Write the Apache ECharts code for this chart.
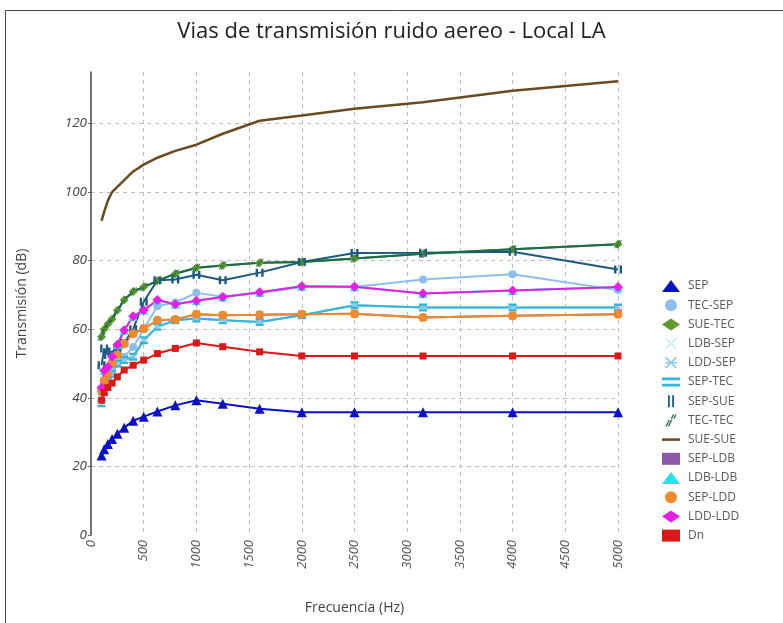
<!DOCTYPE html>
<html>
<head>
<meta charset="utf-8">
<script src="https://cdn.jsdelivr.net/npm/echarts@6/dist/echarts.min.js"></script>
<style>
  html, body { margin: 0; padding: 0; background: #fff; }
  #chart { width: 783px; height: 623px; }
</style>
</head>
<body>
<div id="chart"></div>
<script>
// Third-octave band centre frequencies (Hz)
const freqs = [100, 125, 160, 200, 250, 315, 400, 500, 630, 800, 1000, 1250, 1600, 2000, 2500, 3150, 4000, 5000];

// Transmission per path (dB)
const sep    = [23.2, 25.0, 26.5, 28.0, 29.5, 31.3, 33.3, 34.5, 36.0, 37.8, 39.3, 38.3, 36.8, 35.8, 35.8, 35.8, 35.8, 35.8];
const tecSep = [41.5, 44.0, 46.0, 48.0, 50.0, 52.0, 54.8, 60.0, 66.7, 67.8, 70.6, 69.5, 70.5, 72.3, 72.3, 74.5, 76.0, 71.4];
const sueTec = [57.8, 60.0, 61.5, 63.0, 65.5, 68.5, 71.0, 72.3, 74.1, 76.2, 77.9, 78.6, 79.4, 79.6, 80.6, 82.0, 83.3, 84.8];
const ldbSep = [38.4, 42.0, 45.0, 47.0, 50.0, 51.0, 52.0, 56.8, 60.7, 62.6, 63.1, 62.6, 62.1, 64.1, 67.0, 66.3, 66.3, 66.3];
const lddSep = [38.4, 42.0, 45.0, 47.0, 50.0, 51.0, 52.0, 56.8, 60.7, 62.6, 63.1, 62.6, 62.1, 64.1, 67.0, 66.3, 66.3, 66.3];
const sepTec = [38.4, 42.0, 45.0, 47.0, 50.0, 51.0, 52.0, 56.8, 60.7, 62.6, 63.1, 62.6, 62.1, 64.1, 67.0, 66.3, 66.3, 66.3];
const sepSue = [49.5, 54.4, 52.5, 53.5, 54.0, 56.0, 60.0, 68.0, 74.3, 74.5, 75.9, 74.3, 76.5, 79.6, 82.2, 82.3, 82.6, 77.4];
const tecTec = [57.8, 60.0, 61.5, 63.0, 65.5, 68.5, 71.0, 72.3, 74.1, 76.2, 77.9, 78.6, 79.4, 79.6, 80.6, 82.0, 83.3, 84.8];
const sueSue = [91.6, 94.2, 97.5, 100.0, 101.5, 103.5, 106.0, 108.0, 110.0, 112.0, 113.8, 117.0, 120.8, 122.3, 124.3, 126.2, 129.5, 132.3];
const sepLdb = [42.0, 45.0, 47.0, 50.0, 52.5, 55.8, 58.7, 60.2, 62.6, 62.8, 64.4, 64.1, 64.2, 64.4, 64.5, 63.4, 63.9, 64.4];
const ldbLdb = [43.0, 48.0, 49.0, 52.0, 55.5, 59.7, 63.8, 65.5, 68.5, 67.3, 68.3, 69.4, 70.8, 72.5, 72.4, 70.4, 71.3, 72.3];
const sepLdd = [42.0, 45.0, 47.0, 50.0, 52.5, 55.8, 58.7, 60.2, 62.6, 62.8, 64.4, 64.1, 64.2, 64.4, 64.5, 63.4, 63.9, 64.4];
const lddLdd = [43.0, 48.0, 49.0, 52.0, 55.5, 59.7, 63.8, 65.5, 68.5, 67.3, 68.3, 69.4, 70.8, 72.5, 72.4, 70.4, 71.3, 72.3];
const dn     = [39.3, 41.5, 43.0, 44.3, 46.1, 48.1, 49.5, 51.0, 52.9, 54.4, 56.0, 54.9, 53.4, 52.2, 52.2, 52.2, 52.2, 52.2];

// Axis ticks
const xTicks = [0, 500, 1000, 1500, 2000, 2500, 3000, 3500, 4000, 4500, 5000];
const yTicks = [0, 20, 40, 60, 80, 100, 120];

// Marker shapes
const SYM_X = 'path://M0,1L1,0L5,4L9,0L10,1L6,5L10,9L9,10L5,6L1,10L0,9L4,5Z';
const SYM_STAR = 'path://M0,1L1,0L5,4L9,0L10,1L6,5L10,9L9,10L5,6L1,10L0,9L4,5Z M0,4.4L10,4.4L10,5.6L0,5.6Z';
const SYM_EQ = 'path://M0,2.5L10,2.5L10,4L0,4Z M0,6L10,6L10,7.5L0,7.5Z';
const SYM_BARS = 'path://M2.5,0L4,0L4,10L2.5,10Z M6,0L7.5,0L7.5,10L6,10Z';
const SYM_SLASH = 'path://M1,10L2.2,10L5,4.5L3.8,4.5Z M5.4,3.7L6.6,3.7L8.5,0L7.3,0Z M3,10L4.2,10L7,4.5L5.8,4.5Z M7.4,3.7L8.6,3.7L10.5,0L9.3,0Z';
const SYM_DASH = 'path://M0,4.3L10,4.3L10,5.7L0,5.7Z';

const defs = [
  { name: 'SEP',     data: sep,    color: '#0a10c8', symbol: 'triangle', size: 10, legendIcon: 'triangle' },
  { name: 'TEC-SEP', data: tecSep, color: '#8cbff0', symbol: 'circle',   size: 8,  legendIcon: 'circle' },
  { name: 'SUE-TEC', data: sueTec, color: '#2f8f35', symbol: 'diamond',  size: 9,  legendIcon: 'diamond', markColor: '#5f9a2c' },
  { name: 'LDB-SEP', data: ldbSep, color: '#c6eef0', symbol: SYM_X,      size: 8,  legendIcon: SYM_X },
  { name: 'LDD-SEP', data: lddSep, color: '#8ccbe8', symbol: SYM_STAR,   size: 8,  legendIcon: SYM_STAR },
  { name: 'SEP-TEC', data: sepTec, color: '#35b5dd', symbol: SYM_EQ,     size: 8,  legendIcon: SYM_EQ },
  { name: 'SEP-SUE', data: sepSue, color: '#1b5a82', symbol: SYM_BARS,   size: 8,  legendIcon: SYM_BARS },
  { name: 'TEC-TEC', data: tecTec, color: '#1f6b48', symbol: SYM_SLASH,  size: 8,  legendIcon: SYM_SLASH },
  { name: 'SUE-SUE', data: sueSue, color: '#6b4a1f', symbol: SYM_DASH,   size: 6,  legendIcon: SYM_DASH, width: 2.5, hideMarks: true },
  { name: 'SEP-LDB', data: sepLdb, color: '#8a5aa8', symbol: 'rect',     size: 7,  legendIcon: 'rect' },
  { name: 'LDB-LDB', data: ldbLdb, color: '#22e4ee', symbol: 'triangle', size: 9,  legendIcon: 'triangle' },
  { name: 'SEP-LDD', data: sepLdd, color: '#f08a2c', symbol: 'circle',   size: 9,  legendIcon: 'circle' },
  { name: 'LDD-LDD', data: lddLdd, color: '#e81ee8', symbol: 'diamond',  size: 10, legendIcon: 'diamond' },
  { name: 'Dn',      data: dn,     color: '#dd1818', symbol: 'rect',     size: 7,  legendIcon: 'rect' }
];

const FONT = '"Open Sans", "Noto Sans", sans-serif';

const chart = echarts.init(document.getElementById('chart'), null, { renderer: 'canvas' });

chart.setOption({
  backgroundColor: '#ffffff',
  animation: false,
  title: {
    text: 'Vias de transmisión ruido aereo - Local LA',
    left: 'center',
    top: 16,
    textStyle: { fontFamily: FONT, fontSize: 22, fontWeight: 'normal', color: '#222' }
  },
  graphic: [{
    type: 'rect',
    shape: { x: 5.5, y: 10.5, width: 900, height: 700 },
    style: { fill: 'none', stroke: '#4a4a4a', lineWidth: 1 },
    silent: true
  }],
  legend: {
    orient: 'vertical',
    left: 657,
    top: 275,
    itemWidth: 18,
    itemHeight: 12,
    itemGap: 7.2,
    textStyle: { fontFamily: FONT, fontSize: 12, color: '#5a5a5a', padding: [0, 0, 0, 3] },
    data: defs.map(d => ({ name: d.name, icon: d.legendIcon, itemStyle: { color: d.markColor || d.color } }))
  },
  grid: { left: 91, right: 165, top: 72, bottom: 88, containLabel: false },
  xAxis: {
    type: 'value',
    min: xTicks[0],
    max: xTicks[xTicks.length - 1],
    interval: 500,
    name: 'Frecuencia (Hz)',
    nameLocation: 'middle',
    nameGap: 66,
    nameTextStyle: { fontFamily: FONT, fontSize: 14, color: '#444' },
    axisLine: { show: false },
    axisTick: { show: false },
    axisLabel: {
      rotate: 90,
      margin: 5,
      fontFamily: FONT, fontSize: 13, fontStyle: 'italic', color: '#555',
      formatter: v => xTicks.includes(v) ? String(v) : ''
    },
    splitLine: { show: true, showMinLine: false, lineStyle: { type: [4, 4], color: '#bdbdbd', width: 1 } }
  },
  yAxis: {
    type: 'value',
    min: yTicks[0],
    max: 135,
    interval: 20,
    name: 'Transmisión (dB)',
    nameLocation: 'middle',
    nameGap: 62,
    nameTextStyle: { fontFamily: FONT, fontSize: 14, color: '#444' },
    axisLine: { show: true, lineStyle: { color: '#444', width: 1.5 } },
    axisTick: { show: true, length: 3, lineStyle: { color: '#666' } },
    axisLabel: {
      margin: 4,
      showMaxLabel: false,
      fontFamily: FONT, fontSize: 13.5, fontStyle: 'italic', color: '#444',
      formatter: v => yTicks.includes(v) ? String(v) : ''
    },
    splitLine: { show: true, showMinLine: false, showMaxLine: false, lineStyle: { type: [4, 4], color: '#bdbdbd', width: 1 } }
  },
  series: defs.map(d => ({
    name: d.name,
    type: 'line',
    data: freqs.map((f, i) => [f, d.data[i]]),
    symbol: d.symbol,
    symbolSize: d.size,
    showSymbol: !d.hideMarks,
    showAllSymbol: true,
    lineStyle: { color: d.color, width: d.width || 2 },
    itemStyle: { color: d.markColor || d.color },
    emphasis: { disabled: true }
  }))
});
</script>
</body>
</html>
